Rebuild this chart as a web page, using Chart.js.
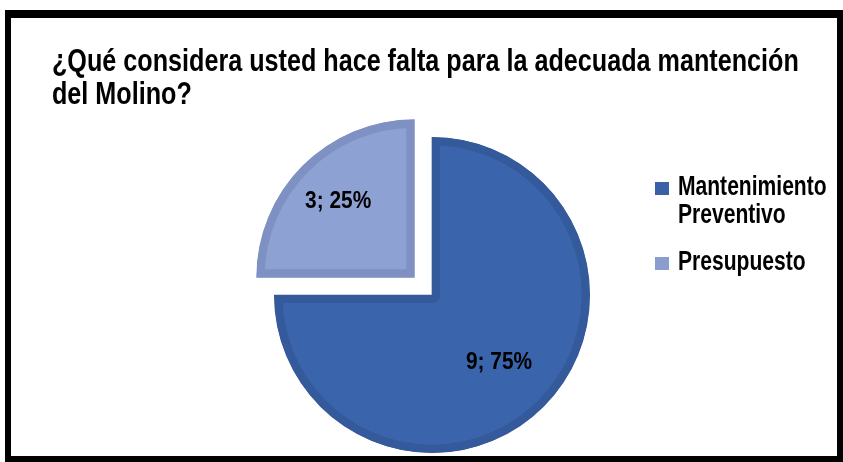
<!DOCTYPE html>
<html>
<head>
<meta charset="utf-8">
<script src="https://cdn.jsdelivr.net/npm/chart.js@4.4.1/dist/chart.umd.min.js"></script>
<style>
    html, body { margin: 0; padding: 0; background: #fff; }
    body { width: 843px; height: 462px; position: relative; overflow: hidden;
        font-family: "Liberation Sans", Arial, sans-serif; font-weight: bold; color: #000; }
    #frame { position: absolute; left: 5px; top: 10px; right: 0; bottom: 0;
        border: 6px solid #000; border-top-width: 8px; box-sizing: border-box; pointer-events: none; }
    #chart { position: absolute; left: 0; top: 0; }
    #title { position: absolute; left: 52px; top: 44px; font-size: 30.7px; line-height: 33px; white-space: nowrap;
        transform: scaleX(0.82); transform-origin: 0 0; }
    #legend { position: absolute; left: 655px; top: 172px; font-size: 27px; line-height: 28px; }
    .legend-item { position: relative; padding-left: 23px; margin-bottom: 19px; white-space: nowrap; }
    .legend-text { display: inline-block; transform: scaleX(0.78); transform-origin: 0 0; }
    .legend-box { position: absolute; left: 0; top: 10px; width: 14px; height: 13px; }
</style>
</head>
<body>
<canvas id="chart" width="843" height="462"></canvas>
<div id="title"></div>
<div id="legend"></div>
<div id="frame"></div>
<script>
// Chart data
const titleLines = ['¿Qué considera usted hace falta para la adecuada mantención', 'del Molino?'];
const categories = [['Mantenimiento', 'Preventivo'], ['Presupuesto']];
const counts = [9, 3];
const percents = [75, 25];

// Styles
const fillColors = ['#3A64AC', '#8EA1D3'];
const borderColors = ['#345A9C', '#7F90C2'];
const legendColors = ['#3A60A8', '#8B9DCE'];
const sliceOffsets = [0, 100];
const labelDistance = [0.6, 0.84]; // fraction of radius from centre

// Title and legend (html text)
document.getElementById('title').innerHTML = titleLines.join('<br>');
document.getElementById('legend').innerHTML = categories.map((lines, i) => `
    <div class="legend-item">
        <span class="legend-box" style="background:${legendColors[i]}"></span>
        <span class="legend-text">${lines.join('<br>')}</span>
    </div>`).join('');

// Draws "n; p%" inside every slice
const sliceLabels = {
    id: 'sliceLabels',
    afterDatasetsDraw(chart) {
        const ctx = chart.ctx;
        const meta = chart.getDatasetMeta(0);
        meta.data.forEach((arc, i) => {
            const p = arc.getProps(['x', 'y', 'startAngle', 'endAngle', 'outerRadius'], true);
            const mid = (p.startAngle + p.endAngle) / 2;
            const d = p.outerRadius * labelDistance[i];
            ctx.save();
            ctx.translate(p.x + Math.cos(mid) * d, p.y + Math.sin(mid) * d);
            ctx.scale(0.87, 1);
            ctx.font = 'bold 24px "Liberation Sans", Arial, sans-serif';
            ctx.fillStyle = '#000';
            ctx.textAlign = 'center';
            ctx.textBaseline = 'middle';
            ctx.fillText(counts[i] + '; ' + percents[i] + '%', 0, 0);
            ctx.restore();
        });
    }
};

const pieChart = new Chart(document.getElementById('chart').getContext('2d'), {
    type: 'pie',
    data: {
        labels: categories.map(l => l.join(' ')),
        datasets: [{
            data: counts,
            backgroundColor: fillColors,
            borderColor: borderColors,
            borderWidth: 8,
            borderAlign: 'inner',
            offset: sliceOffsets
        }]
    },
    options: {
        responsive: false,
        animation: false,
        devicePixelRatio: 1,
        radius: 158,
        layout: { padding: { left: 232, right: 211, top: 135, bottom: 7 } },
        plugins: {
            legend: { display: false },
            tooltip: { enabled: false }
        }
    },
    plugins: [sliceLabels]
});
</script>
</body>
</html>
